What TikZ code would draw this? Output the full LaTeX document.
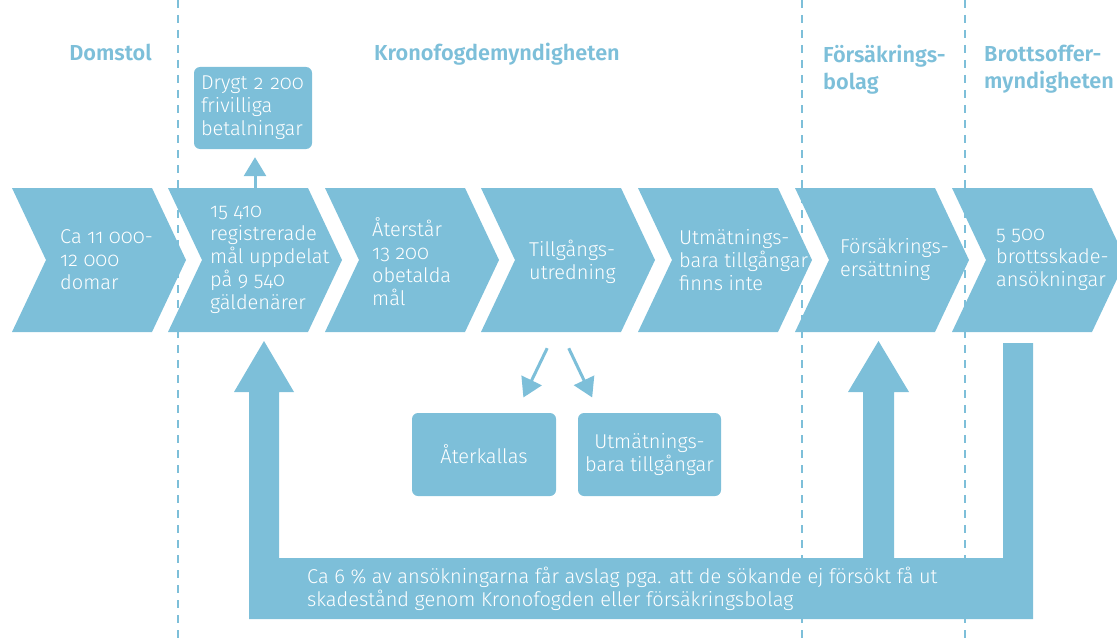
\documentclass[tikz,border=0pt]{standalone}
\usepackage{fontspec}
\setmainfont{Fira Sans}[UprightFont=* Light, BoldFont=* SemiBold, RawFeature=+onum]
\usetikzlibrary{arrows.meta,calc,positioning}
\definecolor{kfblue}{RGB}{125,191,217}

\begin{document}
\begin{tikzpicture}[x=1pt,y=-1pt,
chev/.style={fill=kfblue},
stage/.style={
anchor=west,
align=left,
inner sep=0pt,
text=white,
font=\fontsize{20}{23}\selectfont
},
head/.style={inner sep=0pt,text=kfblue,align=left,font=\fontsize{21.7}{27}\selectfont\bfseries},
box/.style={
fill=kfblue,
rounded corners=6pt,
text=white,
inner sep=0pt,
minimum height=83pt,
font=\fontsize{20}{23}\selectfont
},
sep/.style={kfblue,line width=2pt,dash pattern=on 8pt off 7pt},
to/.style={kfblue,line width=3pt,-{Triangle[width=22pt,length=19pt]}},]

\useasboundingbox (0,0) rectangle (1117,642);
\foreach \x in {178,802,965}
  \draw[sep] (\x,0) -- (\x,642);

\foreach \x/\n in {12/1,168/2,325/3,481/4,638/5,795/6,952/7}{
  \fill[chev] (\x,188) -- ++(140,0) -- ++(34,72) -- ++(-34,72) -- ++(-140,0) -- ++(34,-72) -- cycle;
  \coordinate (c\n) at (\x+87,260);
}

\node[head,anchor=base east] (domstol) at (152,61) {Domstol};
\node[head,anchor=base] (kfm) at (497,61) {Kronofogdemyndigheten};
\node[head,anchor=north west] (fbolag) at (823,45) {Försäkrings-\\bolag};
\node[head,anchor=north west] (bom) at (984,45) {Brottsoffer-\\myndigheten};

\node[stage] (t1) at (60,260) {Ca 11 000-\\12 000\\domar};
\node[stage] (t2) at (210,260) {15 410\\registrerade\\mål uppdelat\\på 9 540\\gäldenärer};
\node[stage] (t3) at (372,262) {Återstår\\13 200\\obetalda\\mål};
\node[stage] (t4) at (529,262) {Tillgångs-\\utredning};
\node[stage] (t5) at (679,260) {Utmätnings-\\bara tillgångar\\finns inte};
\node[stage] (t6) at (840,260) {Försäkrings-\\ersättning};
\node[stage] (t7) at (996,260) {5 500\\brottsskade-\\ansökningar};

\node[box,minimum height=82pt,text width=104pt,inner xsep=7pt,align=left] (drygt) at (253,108) {Drygt 2 200\\frivilliga\\betalningar};
\node[box,minimum width=144pt,align=center] (recall) at (484,454.5) {Återkallas};
\node[box,minimum width=143pt,align=center] (assets) at (649.5,454.5) {Utmätnings-\\bara tillgångar};

\coordinate (c2top) at (255,188);
\draw[to,shorten >=8pt] (c2top) -- (c2top |- drygt.south);
\draw[to,shorten <=18pt,shorten >=17pt] ($(c4)+(-13,72)$) -- ($(recall.north)+(32,0)$);
\draw[to,shorten <=18pt,shorten >=17pt] ($(c4)+(-7,72)$) -- ($(assets.north)+(-50,0)$);

\fill[kfblue] (249,619) -- (249,392) -- (234,392) -- (264,341) -- (294,392) -- (279,392) -- (279,558)
  -- (863,558) -- (863,392) -- (848,392) -- (878.5,341) -- (909,392) -- (894,392) -- (894,558)
  -- (1003,558) -- (1003,343) -- (1033,343) -- (1033,619) -- cycle;
\node[stage] (avslag) at (307,589) {Ca 6 \% av ansökningarna får avslag pga. att de sökande ej försökt få ut\\skadestånd genom Kronofogden eller försäkringsbolag};
\end{tikzpicture}
\end{document}
